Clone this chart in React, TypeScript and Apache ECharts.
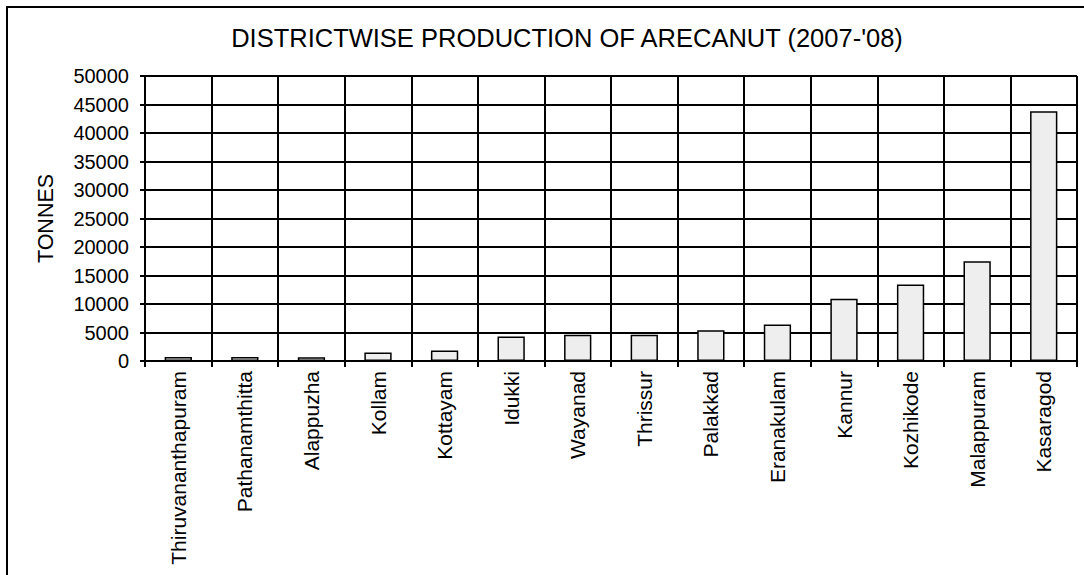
import React, { useEffect, useRef } from "react";
import * as echarts from "echarts";

const districts = [
  "Thiruvananthapuram",
  "Pathanamthitta",
  "Alappuzha",
  "Kollam",
  "Kottayam",
  "Idukki",
  "Wayanad",
  "Thrissur",
  "Palakkad",
  "Eranakulam",
  "Kannur",
  "Kozhikode",
  "Malappuram",
  "Kasaragod",
];
const production = [700, 700, 650, 1500, 1850, 4300, 4600, 4600, 5400, 6400, 10900, 13400, 17500, 43800];

const titleText = "DISTRICTWISE PRODUCTION OF ARECANUT (2007-'08)";
const yAxisName = "TONNES";

const FONT = 'Arial, "Liberation Sans", sans-serif';

export default function App() {
  const ref = useRef<HTMLDivElement>(null);
  useEffect(() => {
    if (!ref.current) return;
    const chart = echarts.init(ref.current, undefined, { renderer: "svg" });
    chart.setOption({
      animation: false,
      backgroundColor: "#ffffff",
      title: {
        text: titleText,
        left: 567,
        top: 25,
        padding: 0,
        textAlign: "center",
        textStyle: { fontFamily: FONT, fontSize: 25.5, fontWeight: "normal", color: "#000" },
      },
      graphic: [
        {
          type: "rect",
          shape: { x: 7, y: 7, width: 1100, height: 600 },
          style: { fill: "none", stroke: "#000", lineWidth: 2 },
          silent: true,
        },
      ],
      grid: { left: 145, right: 7, top: 76, bottom: 214, containLabel: false },
      xAxis: {
        type: "category",
        data: districts,
        boundaryGap: true,
        axisLine: { show: true, lineStyle: { color: "#000", width: 2 } },
        axisTick: { show: true, alignWithLabel: false, length: 6, interval: 0, lineStyle: { color: "#000", width: 2 } },
        splitLine: { show: true, interval: 0, lineStyle: { color: "#000", width: 2 } },
        axisLabel: {
          interval: 0,
          rotate: 90,
          margin: 10,
          fontFamily: FONT,
          fontSize: 21,
          color: "#000",
        },
      },
      yAxis: {
        type: "value",
        min: 0,
        max: 50000,
        interval: 5000,
        name: yAxisName,
        nameLocation: "middle",
        nameGap: 88,
        nameRotate: 90,
        nameTextStyle: { fontFamily: FONT, fontSize: 21.5, color: "#000" },
        axisLine: { show: true, lineStyle: { color: "#000", width: 2 } },
        axisTick: { show: true, inside: false, length: 5, lineStyle: { color: "#000", width: 2 } },
        splitLine: { show: true, lineStyle: { color: "#000", width: 2 } },
        axisLabel: {
          margin: 16,
          fontFamily: FONT,
          fontSize: 20,
          color: "#000",
          formatter: (v: number) => String(v),
        },
      },
      series: [
        {
          type: "bar",
          data: production,
          barWidth: "41%",
          itemStyle: { color: "#eeeeee", borderColor: "#000", borderWidth: 1.5 },
        },
      ],
    });
    return () => chart.dispose();
  }, []);
  return (
    <div
      ref={ref}
      style={{ position: "fixed", left: 0, top: 0, width: 1084, height: 575, background: "#fff" }}
    />
  );
}
